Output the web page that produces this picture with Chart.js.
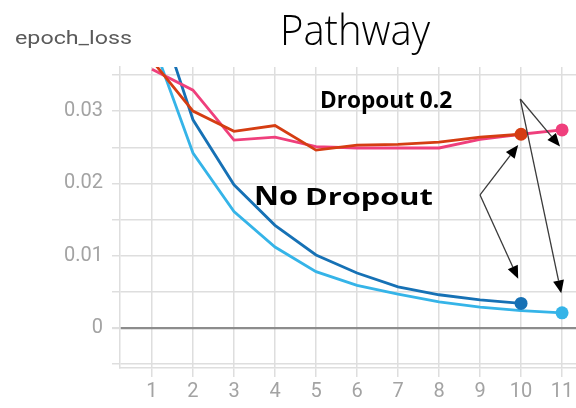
<!DOCTYPE html>
<html>
<head>
<meta charset="utf-8">
<script src="https://cdn.jsdelivr.net/npm/chart.js@4/dist/chart.umd.min.js"></script>
<style>
  html, body { margin: 0; padding: 0; background: #ffffff; }
  #wrap { width: 576px; height: 408px; position: relative; }
</style>
</head>
<body>
<div id="wrap"><canvas id="c" width="576" height="408"></canvas></div>
<script>
// ---- data ----
const epochs10 = [1, 2, 3, 4, 5, 6, 7, 8, 9, 10];
const epochs11 = [1, 2, 3, 4, 5, 6, 7, 8, 9, 10, 11];
const dropoutA = [0.0370, 0.0300, 0.0272, 0.0280, 0.0246, 0.0253, 0.0254, 0.0257, 0.0264, 0.0268];
const dropoutB = [0.0358, 0.0329, 0.0260, 0.0264, 0.0251, 0.0249, 0.0249, 0.0249, 0.0261, 0.0268, 0.0274];
const noDropA  = [0.0460, 0.0288, 0.0198, 0.0142, 0.0101, 0.0076, 0.0057, 0.0046, 0.0039, 0.0034];
const noDropB  = [0.0398, 0.0242, 0.0161, 0.0112, 0.0078, 0.0059, 0.0047, 0.0036, 0.0029, 0.0024, 0.0021];
const yLabelValues = [0, 0.01, 0.02, 0.03];
const titleText = 'Pathway';
const yTitleText = 'epoch_loss';
const labelDropout = 'Dropout 0.2';
const labelNo = 'No';
const labelNoDropout = 'Dropout';

function pts(xs, ys) { return xs.map((x, i) => ({ x: x, y: ys[i] })); }
function lastDot(r) { return ctx => ctx.dataIndex === ctx.dataset.data.length - 1 ? r : 0; }

function ds(xs, ys, color) {
  return {
    data: pts(xs, ys),
    borderColor: color,
    backgroundColor: color,
    borderWidth: 2.8,
    pointRadius: lastDot(6.5),
    pointHoverRadius: lastDot(6.5),
    pointBorderWidth: 0,
    tension: 0,
    fill: false
  };
}

function fitText(ctx, text, font, x, y, width, color) {
  ctx.save();
  ctx.font = font;
  ctx.fillStyle = color;
  ctx.textBaseline = 'alphabetic';
  ctx.textAlign = 'left';
  const w = ctx.measureText(text).width;
  ctx.translate(x, y);
  ctx.scale(width / w, 1);
  ctx.fillText(text, 0, 0);
  ctx.restore();
}

function arrow(ctx, x0, y0, x1, y1) {
  const ang = Math.atan2(y1 - y0, x1 - x0);
  const L = 13, H = 5.5;
  const bx = x1 - L * Math.cos(ang), by = y1 - L * Math.sin(ang);
  ctx.save();
  ctx.strokeStyle = '#3a3a3a';
  ctx.lineWidth = 1.3;
  ctx.beginPath();
  ctx.moveTo(x0, y0);
  ctx.lineTo(bx, by);
  ctx.stroke();
  ctx.fillStyle = '#000000';
  ctx.beginPath();
  ctx.moveTo(x1, y1);
  ctx.lineTo(bx - H * Math.sin(ang), by + H * Math.cos(ang));
  ctx.lineTo(bx + H * Math.sin(ang), by - H * Math.cos(ang));
  ctx.closePath();
  ctx.fill();
  ctx.restore();
}

const annotPlugin = {
  id: 'annot',
  afterDatasetsDraw(chart) {
    const c = chart.ctx;
    const xs = chart.scales.x, ys = chart.scales.y;
    const X = v => xs.getPixelForValue(v), Y = v => ys.getPixelForValue(v);
    // arrows (anchored in data space)
    const o1 = [X(9.98), Y(0.03167)];
    arrow(c, o1[0], o1[1], X(10.95), Y(0.0251));
    arrow(c, o1[0], o1[1], X(10.98), Y(0.0048));
    const o2 = [X(9.0), Y(0.0184)];
    arrow(c, o2[0], o2[1], X(9.93), Y(0.0253));
    arrow(c, o2[0], o2[1], X(9.93), Y(0.0068));
    // bold annotation texts
    fitText(c, labelDropout, '700 24px "Open Sans"', X(5.10), Y(0.03039), 132, '#000');
    fitText(c, labelNo, '700 27px "Open Sans"', X(3.49), Y(0.0170), 44, '#000');
    fitText(c, labelNoDropout, '700 23px "Open Sans"', X(4.73), Y(0.0170), 128, '#000');
  },
  afterDraw(chart) {
    const c = chart.ctx;
    fitText(c, yTitleText, '19px Roboto', 15, 44, 117, '#5a5a5a');
    fitText(c, titleText, '300 42px "Open Sans"', 280, 45, 150, '#000');
  }
};

const gridColor = '#dedede';

new Chart(document.getElementById('c'), {
  type: 'line',
  data: {
    datasets: [
      ds(epochs10, dropoutA, '#d53d12'),
      ds(epochs11, dropoutB, '#ef3f7c'),
      ds(epochs10, noDropA, '#1671b5'),
      ds(epochs11, noDropB, '#35b4e8')
    ]
  },
  options: {
    responsive: false,
    animation: false,
    devicePixelRatio: 1,
    layout: { autoPadding: false, padding: { top: 67, left: 0, right: 0, bottom: 0 } },
    plugins: { legend: { display: false }, title: { display: false }, tooltip: { enabled: false } },
    scales: {
      x: {
        type: 'linear',
        min: 0.22,
        max: 11.34,
        afterFit: s => { s.height = 40; s.paddingLeft = 0; s.paddingRight = 0; },
        border: { display: true, color: gridColor, width: 1.5 },
        grid: { color: gridColor, lineWidth: 1.5, tickLength: 9, tickColor: gridColor },
        ticks: {
          stepSize: 1,
          includeBounds: false,
          autoSkip: false,
          maxRotation: 0,
          padding: 3,
          color: '#a3a3a3',
          font: { family: 'Roboto', size: 20 },
          callback: v => String(Math.round(v))
        }
      },
      y: {
        type: 'linear',
        min: -0.00553,
        max: 0.0361,
        afterFit: s => { s.width = 120; s.paddingTop = 0; s.paddingBottom = 0; },
        border: { display: true, color: gridColor, width: 1.5 },
        grid: {
          color: ctx => (ctx.tick && Math.abs(ctx.tick.value) < 1e-9) ? '#8c8c8c' : gridColor,
          lineWidth: ctx => (ctx.tick && Math.abs(ctx.tick.value) < 1e-9) ? 2.2 : 1.5,
          tickLength: 8,
          tickColor: gridColor
        },
        ticks: {
          stepSize: 0.005,
          includeBounds: false,
          padding: 9,
          color: '#a3a3a3',
          font: { family: 'Roboto', size: 20 },
          callback: v => {
            const r = Math.round(v * 1000) / 1000;
            return yLabelValues.some(t => Math.abs(t - r) < 1e-9) ? String(r) : '';
          }
        }
      }
    }
  },
  plugins: [annotPlugin]
});
</script>
</body>
</html>
